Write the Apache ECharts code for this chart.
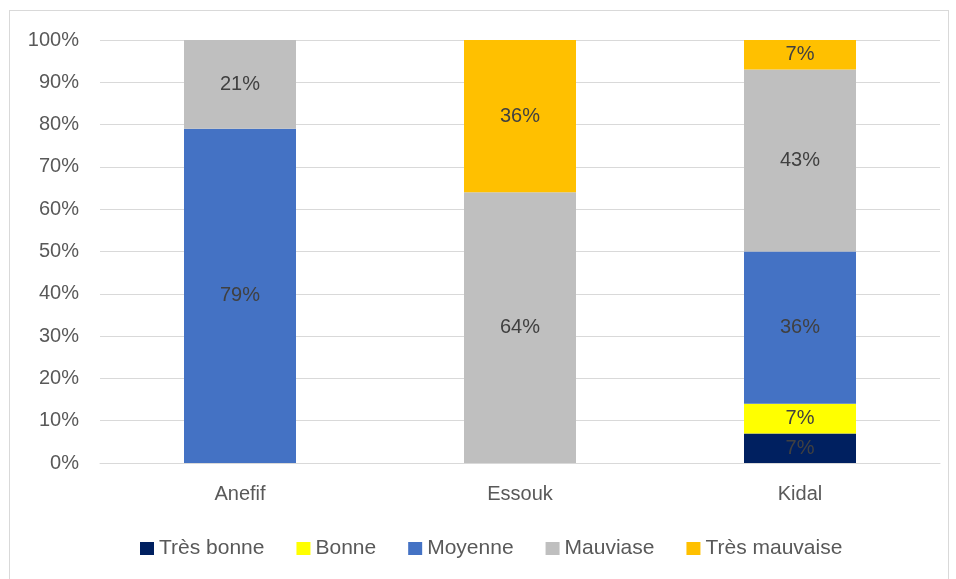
<!DOCTYPE html>
<html>
<head>
<meta charset="utf-8">
<script src="https://cdn.jsdelivr.net/npm/echarts@6/dist/echarts.min.js"></script>
<style>
  html, body { margin: 0; padding: 0; background: #fff; }
  #frame { position: absolute; left: 9px; top: 10px; width: 940px; height: 580px; border: 1px solid #d9d9d9; box-sizing: border-box; }
  #chart { width: 956px; height: 579px; }
</style>
</head>
<body>
<div id="frame"></div>
<div id="chart"></div>
<script>
var categories = ['Anefif', 'Essouk', 'Kidal'];
var seriesNames = ['Très bonne', 'Bonne', 'Moyenne', 'Mauviase', 'Très mauvaise'];
var tresBonne = [null, null, 7];
var bonne = [null, null, 7];
var moyenne = [79, null, 36];
var mauviase = [21, 64, 43];
var tresMauvaise = [null, 36, 7];
var colors = ['#002060', '#FFFF00', '#4472C4', '#BFBFBF', '#FFC000'];

var fontName = 'Liberation Sans, Arial, sans-serif';
var allValues = [tresBonne, bonne, moyenne, mauviase, tresMauvaise];

var series = [];
for (var i = 0; i < seriesNames.length; i++) {
    series.push({
        name: seriesNames[i],
        type: 'bar',
        stack: 'total',
        barWidth: '40%',
        data: allValues[i],
        itemStyle: { color: colors[i] },
        label: {
            show: true,
            position: 'inside',
            color: '#404040',
            fontSize: 20,
            fontFamily: fontName,
            formatter: function (p) { return p.value + '%'; }
        }
    });
}

var myChart = echarts.init(document.getElementById('chart'));
var option = {
    animation: false,
    color: colors,
    grid: { left: 100, right: 16, top: 40, bottom: 116, containLabel: false },
    legend: {
        bottom: 15,
        left: 135,
        icon: 'rect',
        itemWidth: 14,
        itemHeight: 13,
        itemGap: 32,
        textStyle: { color: '#595959', fontSize: 21, fontFamily: fontName },
        data: seriesNames
    },
    xAxis: {
        type: 'category',
        data: categories,
        axisLine: { lineStyle: { color: '#d9d9d9', width: 1 } },
        axisTick: { show: false },
        axisLabel: { color: '#595959', fontSize: 20, fontFamily: fontName, margin: 21 }
    },
    yAxis: {
        type: 'value',
        min: 0,
        max: 100,
        interval: 10,
        axisLine: { show: false },
        axisTick: { show: false },
        splitLine: { lineStyle: { color: '#d9d9d9', width: 1 } },
        axisLabel: {
            color: '#595959', fontSize: 20, fontFamily: fontName, margin: 21,
            formatter: function (v) { return v + '%'; }
        }
    },
    series: series
};
myChart.setOption(option);
</script>
</body>
</html>
